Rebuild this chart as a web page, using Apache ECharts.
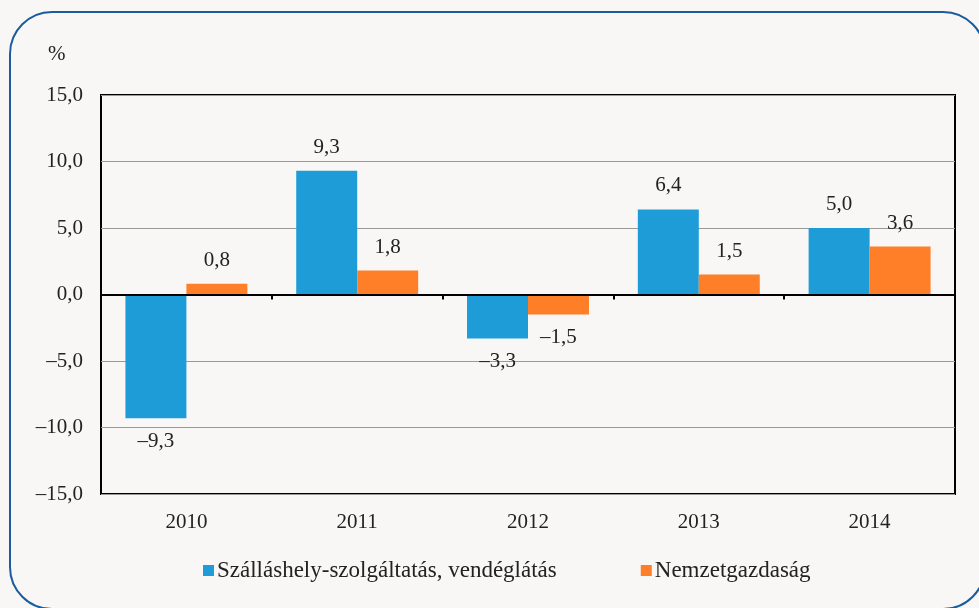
<!DOCTYPE html>
<html>
<head>
<meta charset="utf-8">
<script src="https://cdn.jsdelivr.net/npm/echarts@6/dist/echarts.min.js"></script>
<style>
  html, body { margin: 0; padding: 0; background: #f8f7f5; }
  #chart { width: 979px; height: 608px; }
</style>
</head>
<body>
<div id="chart"></div>
<script>
const years = ['2010', '2011', '2012', '2013', '2014'];
const szallasValues = [-9.3, 9.3, -3.3, 6.4, 5.0];
const nemzetValues = [0.8, 1.8, -1.5, 1.5, 3.6];
const seriesNames = ['Szálláshely-szolgáltatás, vendéglátás', 'Nemzetgazdaság'];

const FONT = 'Liberation Serif';
const FS = 21;

// 1,5 style with en dash minus like the original
const fmt = v => (v < 0 ? '\u2013' : '') + Math.abs(v).toFixed(1).replace('.', ',');

const toData = arr => arr.map(v => ({
    value: v,
    label: { position: v < 0 ? 'bottom' : 'top' }
}));

const chart = echarts.init(document.getElementById('chart'));
chart.setOption({
    backgroundColor: '#f8f7f5',
    animation: false,
    textStyle: { fontFamily: FONT },
    graphic: [
        {
            type: 'rect', silent: true, z: -1,
            shape: { x: 10, y: 12, width: 975, height: 597, r: 42 },
            style: { fill: 'none', stroke: '#1b5c9f', lineWidth: 2 }
        },
        {
            type: 'text', left: 48, top: 44,
            style: { text: '%', fontFamily: FONT, fontSize: FS, fill: '#222' }
        }
    ],
    grid: {
        left: 101, right: 24, top: 95, bottom: 114,
        show: true, borderColor: '#000', borderWidth: 2,
        backgroundColor: 'transparent'
    },
    legend: {
        left: 198, top: 554,
        icon: 'rect', itemWidth: 11, itemHeight: 11, itemGap: 84,
        textStyle: { fontFamily: FONT, fontSize: 23, color: '#222', padding: [0, 0, 0, -2] },
        data: seriesNames
    },
    xAxis: [
        {
            type: 'category', data: years,
            axisLine: { show: false, onZero: false },
            axisTick: { show: false },
            axisLabel: { fontFamily: FONT, fontSize: FS, color: '#222', margin: 18 }
        },
        {
            type: 'category', data: years, position: 'bottom', z: 5,
            axisLine: { show: true, onZero: true, lineStyle: { color: '#000', width: 2 } },
            axisTick: { show: true, length: 5, lineStyle: { color: '#000', width: 2 } },
            axisLabel: { show: false }
        }
    ],
    yAxis: {
        type: 'value', min: -15, max: 15, interval: 5,
        axisLine: { show: false },
        axisTick: { show: false },
        splitLine: { lineStyle: { color: '#999', width: 1 } },
        axisLabel: { fontFamily: FONT, fontSize: FS, color: '#222', margin: 18, formatter: fmt }
    },
    series: [
        {
            name: seriesNames[0], type: 'bar', xAxisIndex: 0,
            data: toData(szallasValues),
            itemStyle: { color: '#1e9cd7' },
            barGap: '0%', barCategoryGap: '28.6%',
            label: {
                show: true, distance: 13, fontFamily: FONT, fontSize: FS, color: '#222',
                formatter: p => fmt(p.value)
            }
        },
        {
            name: seriesNames[1], type: 'bar', xAxisIndex: 0,
            data: toData(nemzetValues),
            itemStyle: { color: '#fe7f27' },
            barGap: '0%', barCategoryGap: '28.6%',
            label: {
                show: true, distance: 13, fontFamily: FONT, fontSize: FS, color: '#222',
                formatter: p => fmt(p.value)
            }
        }
    ]
});
</script>
</body>
</html>
